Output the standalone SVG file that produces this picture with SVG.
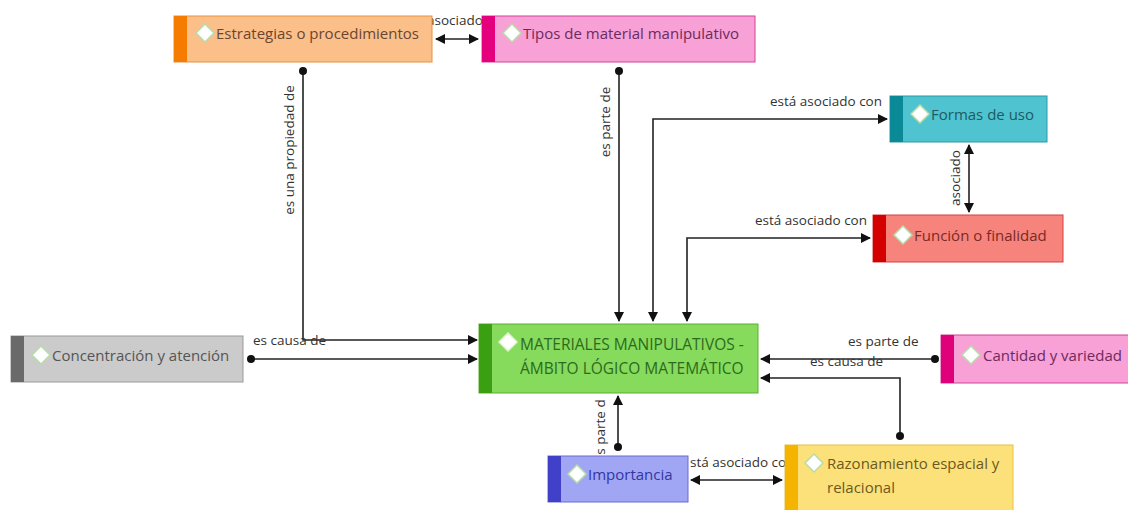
<svg xmlns="http://www.w3.org/2000/svg" width="1128" height="510" viewBox="0 0 1128 510">
<style>
.lbl{font-family:"Open Sans","Noto Sans",sans-serif;font-size:13.5px;fill:#333}
.nt{font-family:"Open Sans","Noto Sans",sans-serif;font-size:15px}
.ln{fill:none;stroke:#222;stroke-width:1.6}
.dia{fill:#fff;stroke:#b8dca8;stroke-width:1.5}
</style>
<defs>
<marker id="arr" viewBox="0 0 10 10" refX="9" refY="5" markerWidth="10" markerHeight="10" markerUnits="userSpaceOnUse" orient="auto-start-reverse">
<path d="M0,0 L10,5 L0,10 z" fill="#111"/>
</marker>
</defs>
<rect width="1128" height="510" fill="#fff"/>
<g id="connectors">
<path class="ln" d="M436,39 H478" marker-start="url(#arr)" marker-end="url(#arr)"/>
<path class="ln" d="M303,71 V340 H477" marker-end="url(#arr)"/>
<circle cx="303" cy="71" r="4" fill="#111"/>
<path class="ln" d="M619,71 V321" marker-end="url(#arr)"/>
<circle cx="619" cy="71" r="4" fill="#111"/>
<path class="ln" d="M653,321 V119 H887" marker-start="url(#arr)" marker-end="url(#arr)"/>
<path class="ln" d="M687,321 V238 H870" marker-start="url(#arr)" marker-end="url(#arr)"/>
<path class="ln" d="M969,145 V212" marker-start="url(#arr)" marker-end="url(#arr)"/>
<path class="ln" d="M251,359 H477" marker-end="url(#arr)"/>
<circle cx="251" cy="359" r="4" fill="#111"/>
<path class="ln" d="M935,359 H761" marker-end="url(#arr)"/>
<circle cx="935" cy="359" r="4" fill="#111"/>
<path class="ln" d="M900,436 V378 H761" marker-end="url(#arr)"/>
<circle cx="900" cy="436" r="4" fill="#111"/>
<path class="ln" d="M618,447 V396" marker-end="url(#arr)"/>
<circle cx="618" cy="447" r="4" fill="#111"/>
<path class="ln" d="M691,480 H782" marker-start="url(#arr)" marker-end="url(#arr)"/>
<text class="lbl" x="427" y="25">asociado</text>
<text class="lbl" transform="translate(294,150) rotate(-90)" text-anchor="middle">es una propiedad de</text>
<text class="lbl" transform="translate(610,122) rotate(-90)" text-anchor="middle">es parte de</text>
<text class="lbl" x="770" y="106">está asociado con</text>
<text class="lbl" x="755" y="225">está asociado con</text>
<text class="lbl" transform="translate(960,178) rotate(-90)" text-anchor="middle">asociado</text>
<text class="lbl" x="253" y="345">es causa de</text>
<text class="lbl" x="848" y="346">es parte de</text>
<text class="lbl" x="810" y="366">es causa de</text>
<text class="lbl" transform="translate(605,427) rotate(-90)" text-anchor="middle">s parte d</text>
<text class="lbl" x="690" y="467">stá asociado co</text>
</g>
<g id="n-estrategias">
<rect x="174" y="16" width="258" height="46" fill="#fbbf8a" stroke="#e8913a"/>
<rect x="174" y="16" width="13" height="46" fill="#f57c00"/>
<path class="dia" d="M205,24 L214,33 L205,42 L196,33 z"/>
<text class="nt" x="216" y="39" fill="#6a4630">Estrategias o procedimientos</text>
</g>
<g id="n-tipos">
<rect x="482" y="16" width="273" height="46" fill="#f7a1d6" stroke="#d4409a"/>
<rect x="482" y="16" width="13" height="46" fill="#e5007e"/>
<path class="dia" d="M512,24 L521,33 L512,42 L503,33 z"/>
<text class="nt" x="523" y="39" fill="#6e2a5e">Tipos de material manipulativo</text>
</g>
<g id="n-formas">
<rect x="890" y="96" width="157" height="46" fill="#4fc4d0" stroke="#2a9aa6"/>
<rect x="890" y="96" width="13" height="46" fill="#0a8a96"/>
<path class="dia" d="M920,105 L929,114 L920,123 L911,114 z"/>
<text class="nt" x="931" y="120" fill="#1d5a63">Formas de uso</text>
</g>
<g id="n-funcion">
<rect x="873" y="215" width="190" height="47" fill="#f6847c" stroke="#d04040"/>
<rect x="873" y="215" width="13" height="47" fill="#d40000"/>
<path class="dia" d="M903,226 L912,235 L903,244 L894,235 z"/>
<text class="nt" x="914" y="241" fill="#7a2a25">Función o finalidad</text>
</g>
<g id="n-concentracion">
<rect x="11" y="336" width="232" height="46" fill="#cbcbcb" stroke="#9a9a9a"/>
<rect x="11" y="336" width="13" height="46" fill="#6a6a6a"/>
<path class="dia" d="M41,346 L50,355 L41,364 L32,355 z"/>
<text class="nt" x="52" y="361" fill="#555">Concentración y atención</text>
</g>
<g id="n-materiales">
<rect x="479" y="324" width="279" height="69" fill="#86da5c" stroke="#5ab030"/>
<rect x="479" y="324" width="13" height="69" fill="#3aa012"/>
<path class="dia" d="M508,333 L517,342 L508,351 L499,342 z" style="stroke:#dff5d0"/>
<text class="nt" x="520" y="350" fill="#2d6a1d" style="font-size:15.5px">MATERIALES MANIPULATIVOS -</text>
<text class="nt" x="520" y="374" fill="#2d6a1d" style="font-size:15.5px">ÁMBITO LÓGICO MATEMÁTICO</text>
</g>
<g id="n-cantidad">
<rect x="941" y="335" width="192" height="48" fill="#f7a1d6" stroke="#d4409a"/>
<rect x="941" y="335" width="13" height="48" fill="#e0007a"/>
<path class="dia" d="M971,346 L980,355 L971,364 L962,355 z"/>
<text class="nt" x="983" y="361" fill="#6e2a5e">Cantidad y variedad</text>
</g>
<g id="n-importancia">
<rect x="548" y="456" width="140" height="46" fill="#a0a6f4" stroke="#6a6ad0"/>
<rect x="548" y="456" width="13" height="46" fill="#4040c8"/>
<path class="dia" d="M577,465 L586,474 L577,483 L568,474 z"/>
<text class="nt" x="588" y="480" fill="#3535a0">Importancia</text>
</g>
<g id="n-razonamiento">
<rect x="785" y="445" width="228" height="70" fill="#fce17a" stroke="#e8c040"/>
<rect x="785" y="445" width="13" height="70" fill="#f5b400"/>
<path class="dia" d="M814,454 L823,463 L814,472 L805,463 z"/>
<text class="nt" x="827" y="469" fill="#6b5a20">Razonamiento espacial y</text>
<text class="nt" x="827" y="493" fill="#6b5a20">relacional</text>
</g>
</svg>
